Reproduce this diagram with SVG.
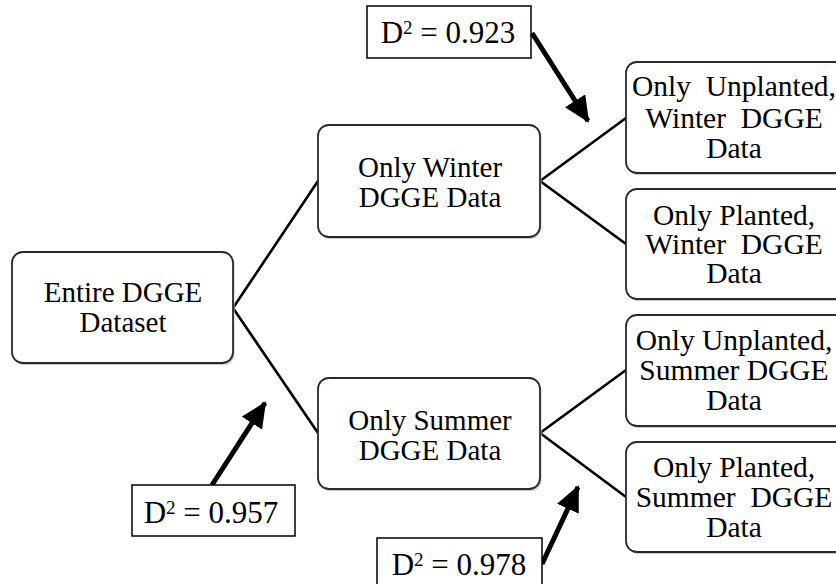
<svg xmlns="http://www.w3.org/2000/svg" width="836" height="584" viewBox="0 0 836 584">
<defs>
<style>
.box{fill:#fff;stroke:#2a2a2a;stroke-width:1.8}
.shadow{fill:#c8c8c8}
.lbl{fill:#fff;stroke:#000;stroke-width:1.5}
.t{font-family:"Liberation Serif","Times New Roman",serif;font-size:29px;fill:#000;text-anchor:middle}
.r{font-size:29.5px}
.d{font-family:"Liberation Serif","Times New Roman",serif;font-size:31px;fill:#000;text-anchor:middle}
.conn{stroke:#000;stroke-width:2.6;fill:none}
.arr{stroke:#000;stroke-width:5;fill:none}
</style>
<marker id="ah" markerUnits="userSpaceOnUse" markerWidth="28" markerHeight="24" refX="24" refY="12" orient="auto">
<path d="M0,0 L26,12 L0,24 Z" fill="#000"/>
</marker>
</defs>
<g id="connectors">
<path class="conn" d="M233,308 L318,181 M233,308 L318,433"/>
<path class="conn" d="M540,181 L626,118 M540,181 L626,244"/>
<path class="conn" d="M540,433 L626,370 M540,433 L626,497"/>
<line class="arr" x1="532" y1="33" x2="588" y2="121" marker-end="url(#ah)"/>
<line class="arr" x1="212" y1="485" x2="265" y2="403" marker-end="url(#ah)"/>
<line class="arr" x1="542" y1="564" x2="578" y2="487" marker-end="url(#ah)"/>
</g>
<g id="entire">
<rect class="shadow" x="13.5" y="254" width="221" height="111" rx="11"/>
<rect class="box" x="12" y="252" width="221" height="111" rx="11"/>
<text class="t" x="123" y="302">Entire DGGE</text>
<text class="t" x="123" y="332">Dataset</text>
</g>
<g id="winter">
<rect class="shadow" x="319.5" y="127" width="222" height="112" rx="11"/>
<rect class="box" x="318" y="125" width="222" height="112" rx="11"/>
<text class="t" x="430" y="177">Only Winter</text>
<text class="t" x="430" y="207">DGGE Data</text>
</g>
<g id="summer">
<rect class="shadow" x="319.5" y="380" width="222" height="111" rx="11"/>
<rect class="box" x="318" y="378" width="222" height="111" rx="11"/>
<text class="t" x="430" y="430">Only Summer</text>
<text class="t" x="430" y="460">DGGE Data</text>
</g>
<g id="unplanted-winter">
<rect class="shadow" x="627.5" y="64" width="220" height="111" rx="11"/>
<rect class="box" x="626" y="62" width="220" height="111" rx="11"/>
<text class="t r" x="734" y="96">Only&#160; Unplanted,</text>
<text class="t r" x="734" y="128">Winter&#160; DGGE</text>
<text class="t r" x="734" y="158">Data</text>
</g>
<g id="planted-winter">
<rect class="shadow" x="627.5" y="191" width="220" height="110" rx="11"/>
<rect class="box" x="626" y="189" width="220" height="110" rx="11"/>
<text class="t r" x="734" y="225">Only Planted,</text>
<text class="t r" x="734" y="254">Winter&#160; DGGE</text>
<text class="t r" x="734" y="283">Data</text>
</g>
<g id="unplanted-summer">
<rect class="shadow" x="627.5" y="317" width="220" height="111" rx="11"/>
<rect class="box" x="626" y="315" width="220" height="111" rx="11"/>
<text class="t r" x="734" y="350">Only Unplanted,</text>
<text class="t r" x="734" y="380">Summer DGGE</text>
<text class="t r" x="734" y="410">Data</text>
</g>
<g id="planted-summer">
<rect class="shadow" x="627.5" y="444" width="220" height="110" rx="11"/>
<rect class="box" x="626" y="442" width="220" height="110" rx="11"/>
<text class="t r" x="734" y="477">Only Planted,</text>
<text class="t r" x="734" y="507">Summer&#160; DGGE</text>
<text class="t r" x="734" y="537">Data</text>
</g>
<g id="d923">
<rect class="lbl" x="367" y="6" width="164" height="52"/>
<text class="d" x="448" y="43">D<tspan font-size="19" dy="-9">2</tspan><tspan dy="9"> = 0.923</tspan></text>
</g>
<g id="d957">
<rect class="lbl" x="132" y="485" width="163" height="51"/>
<text class="d" x="211" y="523">D<tspan font-size="19" dy="-9">2</tspan><tspan dy="9"> = 0.957</tspan></text>
</g>
<g id="d978">
<rect class="lbl" x="377" y="538" width="165" height="60"/>
<text class="d" x="459" y="575">D<tspan font-size="19" dy="-9">2</tspan><tspan dy="9"> = 0.978</tspan></text>
</g>
</svg>
